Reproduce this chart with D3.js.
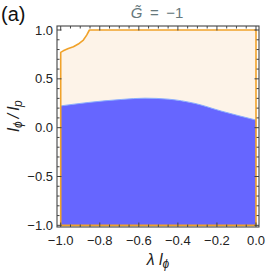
<!DOCTYPE html>
<html><head><meta charset="utf-8">
<script src="https://cdn.jsdelivr.net/npm/d3@7"></script>
<style>body{margin:0;background:#fff}svg{display:block}</style>
</head><body>
<svg id="c" width="266" height="274"></svg>
<script>
// Allowed region boundary (orange outline), lambda*l_phi vs l_phi/l_p
const regionX = [-1.0, -0.987, -0.961, -0.935, -0.910, -0.884, -0.867, -0.853, 0.0];
const regionY = [0.771, 0.787, 0.811, 0.828, 0.856, 0.897, 0.948, 1.0, 1.0];
// Upper boundary of blue region
const blueX = [-1.0, -0.859, -0.688, -0.568, -0.449, -0.312, -0.176, 0.0];
const blueY = [0.223, 0.258, 0.289, 0.302, 0.292, 0.248, 0.169, 0.078];
const yMin = -1.0;
const xTickLabels = ["\u22121.0","\u22120.8","\u22120.6","\u22120.4","\u22120.2","0.0"];
const xTicks = [-1.0,-0.8,-0.6,-0.4,-0.2,0.0];
const yTickLabels = ["\u22121.0","\u22120.5","0.0","0.5","1.0"];
const yTicks = [-1.0,-0.5,0.0,0.5,1.0];

const svg = d3.select("#c");
const L=57,R=259,T=26,B=227;
const x = d3.scaleLinear().domain([-1.019,0.0154]).range([L,R]);
const y = d3.scaleLinear().domain([-1.017,1.041]).range([B,T]);

const reg = regionX.map((v,i)=>[v,regionY[i]]);
const pts = [[-1,yMin]].concat(reg).concat([[0,yMin]]);
const line = d3.line().x(d=>x(d[0])).y(d=>y(d[1]));
svg.append("path").attr("d", line(pts)+"Z").attr("fill","#fdf3e8");

// blue region
const blue = blueX.map((v,i)=>[v,blueY[i]]);
const area = d3.area().x(d=>x(d[0])).y0(y(yMin)).y1(d=>y(d[1])).curve(d3.curveMonotoneX);
svg.append("path").attr("d", area(blue)).attr("fill","#6666ff");
svg.append("path").attr("d", d3.line().x(d=>x(d[0])).y(d=>y(d[1])).curve(d3.curveMonotoneX)(blue))
  .attr("fill","none").attr("stroke","#8aaeff").attr("stroke-width",1);

// orange outline
svg.append("path").attr("d", line(pts)+"Z").attr("fill","none")
  .attr("stroke","#f0a22a").attr("stroke-width",1.6).attr("stroke-linejoin","round");

// frame
svg.append("rect").attr("x",L).attr("y",T).attr("width",R-L).attr("height",B-T)
  .attr("fill","none").attr("stroke","#444").attr("stroke-width",1.1);

const tk = svg.append("g").attr("stroke","#444").attr("stroke-width",1);
d3.range(-1,0.0001,0.05).forEach(v=>{
  const major = Math.abs(v*5-Math.round(v*5))<1e-6;
  const len = major?4.5:2.5; const px=x(v);
  tk.append("line").attr("x1",px).attr("x2",px).attr("y1",B).attr("y2",B-len);
  tk.append("line").attr("x1",px).attr("x2",px).attr("y1",T).attr("y2",T+len);
});
d3.range(-1,1.0001,0.1).forEach(v=>{
  const major = Math.abs(v*2-Math.round(v*2))<1e-6;
  const len = major?4.5:2.5; const py=y(v);
  tk.append("line").attr("y1",py).attr("y2",py).attr("x1",L).attr("x2",L+len);
  tk.append("line").attr("y1",py).attr("y2",py).attr("x1",R).attr("x2",R-len);
});

const font = "'Liberation Sans', Arial, sans-serif";
xTicks.forEach((v,i)=>{
  svg.append("text").attr("x",x(v)).attr("y",245).attr("text-anchor","middle")
    .attr("font-family",font).attr("font-size",13).attr("fill","#222").text(xTickLabels[i]);
});
yTicks.forEach((v,i)=>{
  svg.append("text").attr("x",53).attr("y",y(v)+4.6).attr("text-anchor","end")
    .attr("font-family",font).attr("font-size",13).attr("fill","#222").text(yTickLabels[i]);
});

// title
const t = svg.append("text").attr("x",157).attr("y",18).attr("text-anchor","middle")
  .attr("font-family",font).attr("font-size",15).attr("fill","#66787c");
t.append("tspan").attr("font-style","italic").text("G\u0303");
t.append("tspan").text("\u2002=\u2002\u22121");

// panel label
svg.append("text").attr("x",1).attr("y",21).attr("font-family",font).attr("font-size",20).attr("fill","#111").text("(a)");

// x label
const xl = svg.append("text").attr("x",158).attr("y",265).attr("text-anchor","middle")
  .attr("font-family",font).attr("font-size",16).attr("font-style","italic").attr("fill","#222");
xl.append("tspan").text("\u03bb l");
xl.append("tspan").attr("font-size",12).attr("dy",3).text("\u03d5");

// y label
const yl = svg.append("text").attr("transform","translate(19,116) rotate(-90)").attr("text-anchor","middle")
  .attr("font-family",font).attr("font-size",16).attr("font-style","italic").attr("fill","#222");
yl.append("tspan").text("l");
yl.append("tspan").attr("font-size",12).attr("dy",3).text("\u03d5");
yl.append("tspan").attr("dy",-3).text("\u2009/\u2009l");
yl.append("tspan").attr("font-size",12).attr("dy",3).text("p");
</script>
</body></html>
